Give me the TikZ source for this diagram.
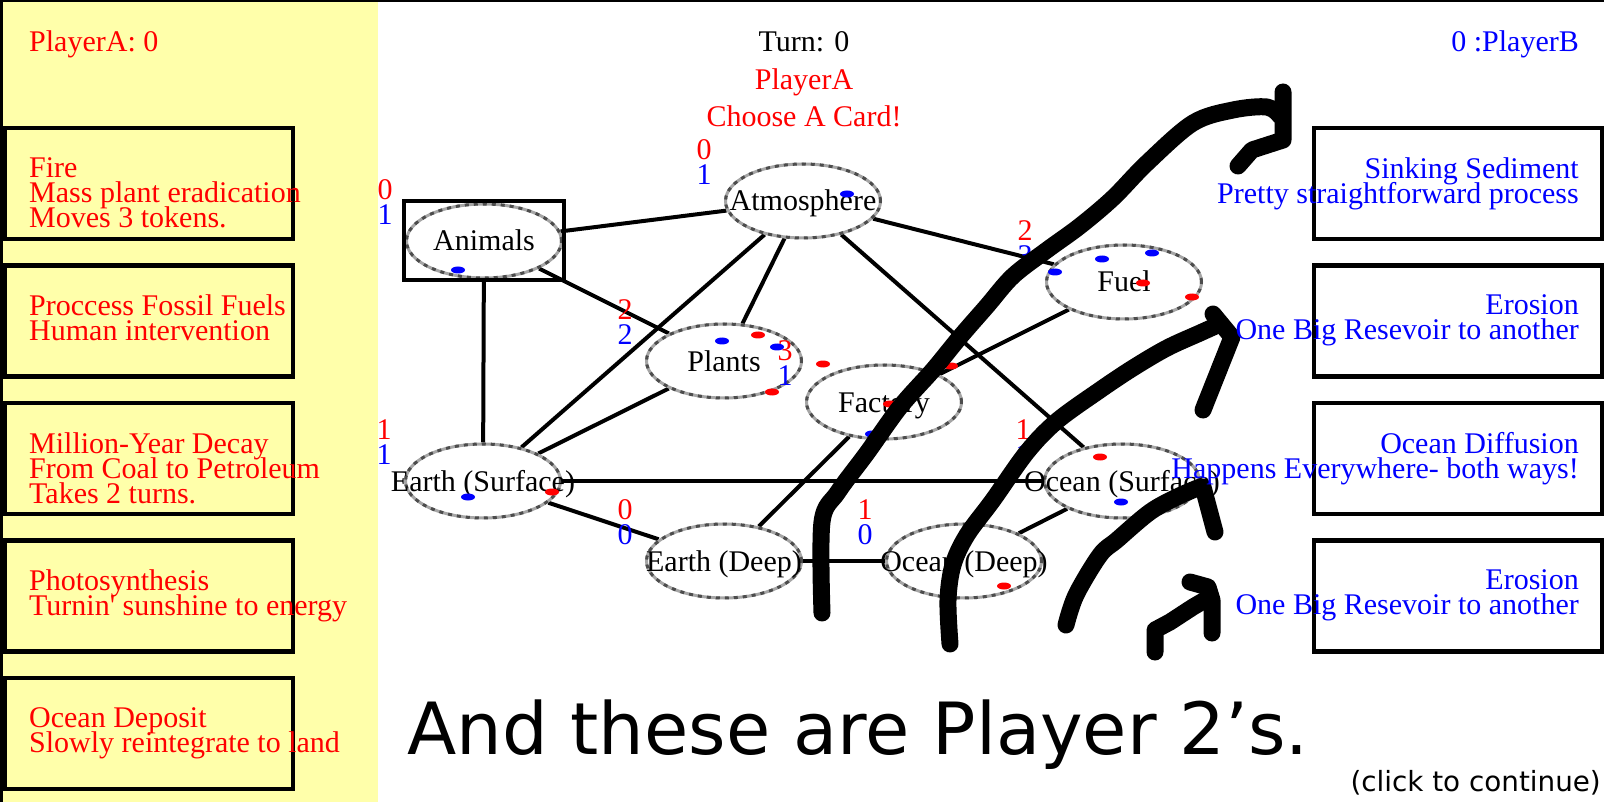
\documentclass[tikz,border=0pt]{standalone}
\usepackage{fontspec}
\setmainfont{Liberation Serif}
\newfontfamily\uifont{DejaVu Sans}
\usetikzlibrary{positioning, fit, shapes.geometric, backgrounds}

\definecolor{panel}{RGB}{255,255,170}
\definecolor{pred}{RGB}{255,0,0}
\definecolor{pblue}{RGB}{0,0,255}
\newcommand\gamefont{\fontsize{30}{25}\selectfont\lineskiplimit=-40pt}
\newcommand\rname[1]{\makebox[0pt]{#1}}
% token counts of a reservoir: red (player A) above, blue (player B) below
\newcommand\tally[3]{%
  \path (#1.west |- #1.north) ++(-20,-3) node[cnt, text=pred] (#1-a) {#2}
        ++(0,25) node[cnt, text=pblue] (#1-b) {#3};}

\begin{document}
\begin{tikzpicture}[
  x=1pt, y=-1pt,
  font=\gamefont,
  hud/.style     ={inner sep=0pt, anchor=base},
  cardbox/.style ={draw, line width=4.5pt, anchor=north west, inner sep=0pt,
                   outer sep=0pt, minimum width=288pt, minimum height=111pt},
  cardtxt/.style ={inner sep=0pt},
  resv/.style    ={ellipse, draw=black!35, line width=3pt, fill=white,
                   minimum width=155pt, minimum height=74pt, inner sep=0pt,
                   text height=21pt, text depth=1pt,
                   postaction={draw=black!70, line width=3pt,
                               dash pattern=on 4pt off 5pt}},
  link/.style    ={line width=4pt},
  cnt/.style     ={inner sep=0pt, anchor=base},
  tok/.style     ={ellipse, inner sep=0pt, minimum width=14pt, minimum height=7pt},
  scrawl/.style  ={line width=17pt, line cap=round, line join=round},
]
\useasboundingbox (0,0) rectangle (1604,802);
\fill[panel] (0,0) rectangle (378,802);
\draw[line width=3pt] (1.5,802) -- (1.5,1) -- (1604,1);

% scores and turn
\node[hud, text=pred, anchor=base west] (scoreA) at (29,52) {PlayerA: 0};
\node[hud, text=pblue, anchor=base east] (scoreB) at (1579,52) {0 :PlayerB};
\node[hud] (turn) at (804,52) {Turn: 0};
\node[hud, text=pred, below=38pt of turn.base, anchor=base] (mover) {PlayerA};
\node[hud, text=pred, below=37pt of mover.base, anchor=base] (prompt) {Choose A Card!};

% player A cards
\foreach \txt [count=\i from 0] in {{Fire\\Mass plant eradication\\Moves 3 tokens.},
    {Proccess Fossil Fuels\\Human intervention},
    {Million-Year Decay\\From Coal to Petroleum\\Takes 2 turns.},
    {Photosynthesis\\Turnin\textquotesingle{} sunshine to energy},
    {Ocean Deposit\\Slowly reintegrate to land}}
{
  \node[cardbox] (cardA\i) at (5,{128+137.5*\i}) {};
  \node[cardtxt, text=pred, align=left, anchor=north west] (textA\i)
    at (29,{157+137.5*\i}) {\txt};
}

% reservoirs
\node[resv] (animals) at (484,241)  {\rname{Animals}};
\node[draw, line width=4pt, fit=(animals), inner sep=1pt] (animalsbox) {};
\node[resv] (atmos)   at (803,201)  {\rname{Atmosphere}};
\node[resv] (plants)  at (724,361)  {\rname{Plants}};
\node[resv] (fuel)    at (1124,282) {\rname{Fuel}};
\node[resv] (factory) at (884,402)  {\rname{Factory}};
\node[resv] (esurf)   at (483,481)  {\rname{Earth (Surface)}};
\node[resv] (osurf)   at (1122,481) {\rname{Ocean (Surface)}};
\node[resv] (edeep)   at (724,561)  {\rname{Earth (Deep)}};
\node[resv] (odeep)   at (964,561)  {\rname{Ocean (Deep)}};

\begin{scope}[on background layer]
  \foreach \a/\b in {animals/atmos, animals/plants, animals/esurf,
      atmos/plants, atmos/esurf, atmos/fuel, atmos/osurf, plants/esurf,
      fuel/factory, factory/edeep, esurf/osurf, esurf/edeep,
      edeep/odeep, odeep/osurf}
    \draw[link] (\a) -- (\b);
\end{scope}

\tally{animals}{0}{1}
\tally{atmos}{0}{1}
\tally{plants}{2}{2}
\tally{fuel}{2}{3}
\tally{factory}{3}{1}
\tally{esurf}{1}{1}
\tally{osurf}{1}{1}
\tally{edeep}{0}{0}
\tally{odeep}{1}{0}

% tokens
\foreach \x/\y [count=\k] in {458/270, 847/194, 722/341, 777/347, 1102/259,
    1152/253, 1055/272, 872/434, 1121/502, 468/497}
  \node[tok, fill=pblue] (tokB\k) at (\x,\y) {};
\foreach \x/\y [count=\k] in {758/335, 772/392, 1143/283, 1192/297, 823/364,
    951/366, 890/404, 1100/457, 1004/586, 552/492}
  \node[tok, fill=pred] (tokA\k) at (\x,\y) {};

% hand-drawn arrows
\draw[scrawl] plot[smooth, tension=0.55] coordinates {(822,613) (822,522)
  (838,492) (867,453) (900,407) (933,370) (960,337) (987,306) (1013,276)
  (1047,250) (1080,226) (1113,198) (1147,163) (1193,123) (1233,110)
  (1267,107) (1280,116)};
\draw[scrawl] (1283,92) -- (1283,140) -- (1252,150) -- (1238,166);
\draw[scrawl] plot[smooth, tension=0.55] coordinates {(950,644) (948,600)
  (953,565) (967,535) (993,500) (1027,452) (1057,421) (1100,390)
  (1133,368) (1167,348) (1200,333) (1220,324)};
\draw[scrawl] (1213,314) -- (1232,337) -- (1203,410);
\draw[scrawl] plot[smooth, tension=0.55] coordinates {(1066,625) (1076,595)
  (1100,555) (1117,540) (1150,512) (1177,497) (1200,487)};
\draw[scrawl] (1203,487) -- (1215,532);
\draw[scrawl] (1155,652) -- (1155,630) -- (1170,622) -- (1193,607) -- (1205,600);
\draw[scrawl] (1190,582) -- (1208,587) -- (1212,600) -- (1212,633);

% player B cards
\foreach \txt [count=\i from 0] in {{Sinking Sediment\\Pretty straightforward process},
    {Erosion\\One Big Resevoir to another},
    {Ocean Diffusion\\Happens Everywhere- both ways!},
    {Erosion\\One Big Resevoir to another}}
{
  \node[cardbox] (cardB\i) at (1314,{128+137.5*\i}) {};
  \node[cardtxt, text=pblue, align=right, anchor=north east] (textB\i)
    at (1579,{157+137.5*\i}) {\txt};
}

\node[inner sep=0pt, anchor=base west, font=\uifont\fontsize{72}{80}\selectfont]
  (caption) at (407,754) {And these are Player 2’s.};
\node[inner sep=0pt, anchor=base east, font=\uifont\fontsize{27.8}{30}\selectfont]
  (clicknote) at (1601,791) {(click to continue)};
\end{tikzpicture}
\end{document}
